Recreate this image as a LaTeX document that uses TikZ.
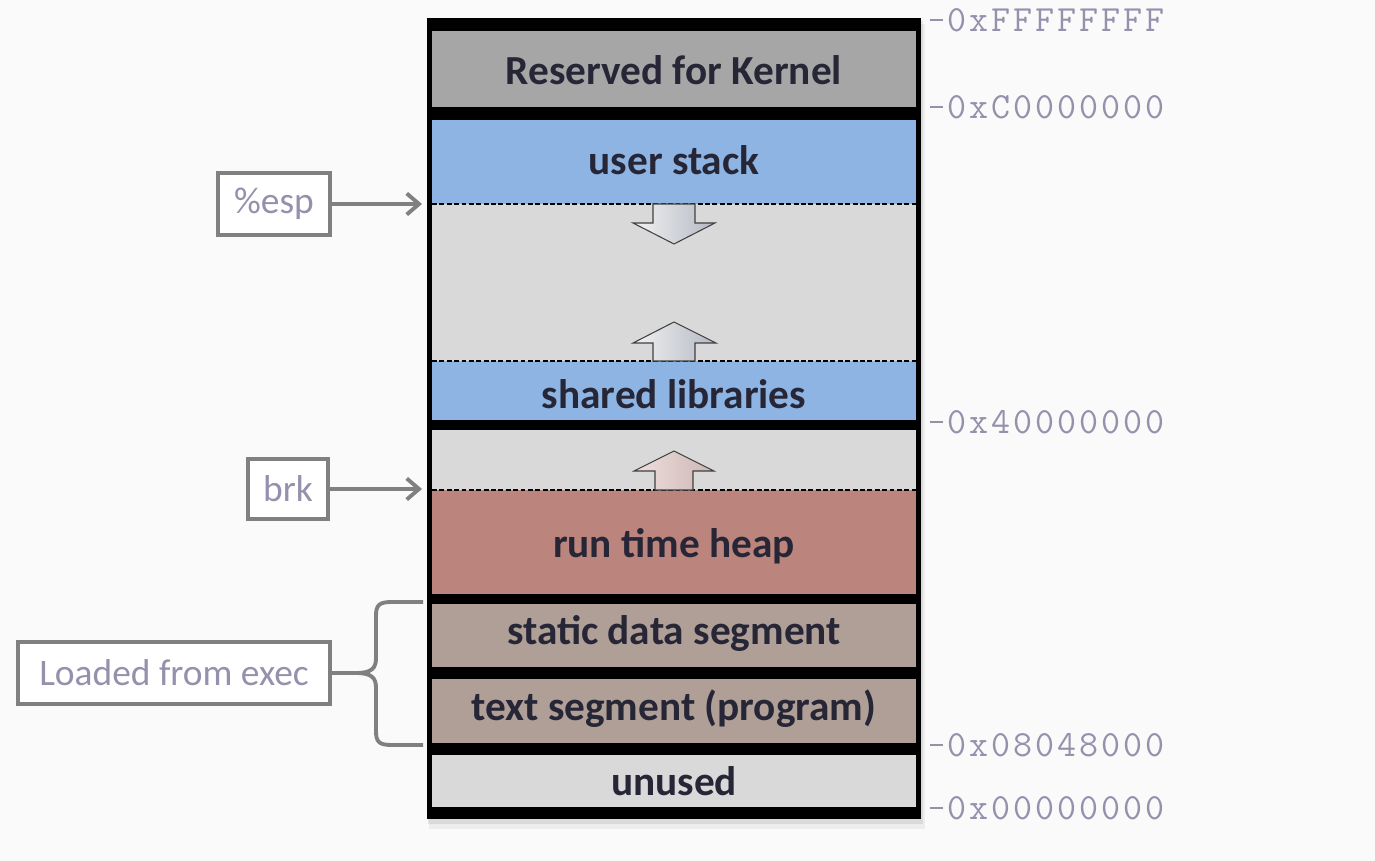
\documentclass[tikz,border=0pt]{standalone}
\usepackage{fontspec}
\setmainfont{Carlito}
\definecolor{bgPage}{HTML}{FAFAFA}
\definecolor{kernelGray}{HTML}{A6A6A6}
\definecolor{stackBlue}{HTML}{8EB4E3}
\definecolor{freeGray}{HTML}{D9D9D9}
\definecolor{heapRed}{HTML}{BB847D}
\definecolor{segTaupe}{HTML}{AF9F97}
\definecolor{labelInk}{HTML}{262636}
\definecolor{addrInk}{HTML}{9391AC}
\definecolor{ptrGray}{HTML}{808080}
\definecolor{arrowLight}{HTML}{F2F2F2}
\definecolor{arrowDark}{HTML}{B4B8C3}
\definecolor{heapLight}{HTML}{EEDFDE}
\definecolor{heapDark}{HTML}{CDB6B4}
\usetikzlibrary{positioning, arrows.meta}
\makeatletter
\newcommand\spacedaddr[1]{\@tfor\addrch:=#1\do{\makebox[0.44cm]{\addrch}}}
\makeatother

\begin{document}
\begin{tikzpicture}[x=0.02cm, y=-0.02cm,
    seglabel/.style={font=\fontsize{23.5}{28}\selectfont\bfseries, text=labelInk, inner sep=0pt},
    ptrbox/.style={draw=ptrGray, line width=2.2pt, fill=white, inner sep=0pt,
                   font=\fontsize{21.3}{25}\selectfont, text=addrInk},
    ptr/.style={draw=ptrGray, line width=2.2pt, -{Straight Barb[length=7pt, width=12pt]}},
    brace/.style={draw=ptrGray, line width=2.2pt},
    addr/.style={anchor=west, inner sep=0pt, text=addrInk, font=\ttfamily\fontsize{21}{24}\selectfont},
    tick/.style={draw=addrInk, line width=0.9pt},
    sepline/.style={draw=black, line width=0.9pt, dash pattern=on 2.8pt off 1.4pt},
    growarrow/.style={draw=black!75, line width=0.6pt}]
  % page and shadow
  \fill[bgPage] (0,0) rectangle (1375,861);
  \fill[black, opacity=.05] (429,24) rectangle (925,829);
  \fill[black, opacity=.08] (428,21) rectangle (923,824);
  % frame and segments
  \fill[black] (427,18) rectangle (921,819);
  \fill[kernelGray] (432,31) rectangle (916,107);
  \fill[stackBlue] (432,120) rectangle (916,204);
  \fill[freeGray] (432,204) rectangle (916,361);
  \fill[stackBlue] (432,361) rectangle (916,420);
  \fill[freeGray] (432,430) rectangle (916,490);
  \fill[heapRed] (432,490) rectangle (916,594);
  \fill[segTaupe] (432,604) rectangle (916,667);
  \fill[segTaupe] (432,679) rectangle (916,743);
  \fill[freeGray] (432,755) rectangle (916,807);
  \draw[sepline] (432,204) -- (916,204);
  \draw[sepline] (432,361) -- (916,361);
  \draw[sepline] (432,490) -- (916,490);

  % growth arrows
  \draw[growarrow, left color=arrowLight, right color=arrowDark]
    (653,204) -- (695,204) -- (695,223) -- (715,223) -- (674,244) -- (633,223) -- (653,223) -- cycle;
  \draw[growarrow, left color=arrowLight, right color=arrowDark]
    (653,361) -- (695,361) -- (695,343) -- (716,343) -- (674,322) -- (633,343) -- (653,343) -- cycle;
  \draw[growarrow, left color=heapLight, right color=heapDark]
    (655,490) -- (693,490) -- (693,471) -- (714,471) -- (674,451) -- (634,471) -- (655,471) -- cycle;

  % segment names
  \node[seglabel] (kernel) at (674,70) {Reserved for Kernel};
  \node[seglabel] (stack) at (674,160) {user stack};
  \node[seglabel] (libs) at (674,394) {shared libraries};
  \node[seglabel] (heap) at (674,546) {run time heap};
  \node[seglabel] (data) at (674,633) {static data segment};
  \node[seglabel] (text) at (674,709) {text segment (program)};
  \node[seglabel] (unused) at (674,781) {unused};

  % pointers
  \node[ptrbox, minimum width=2.24cm, minimum height=1.24cm] (esp) at (274,204) {\%esp};
  \node[ptrbox, minimum width=1.6cm, minimum height=1.2cm] (brk) at (288,489) {brk};
  \node[ptrbox, minimum width=6.24cm, minimum height=1.24cm] (loaded) at (174,673) {Loaded from exec};
  \coordinate (espTip) at (422,204);
  \coordinate (brkTip) at (422,489);
  \draw[ptr] (esp) -- (espTip);
  \draw[ptr] (brk) -- (brkTip);

  % brace over static data and text
  \coordinate (loadTop) at (423,602);
  \coordinate (loadBot) at (423,745);
  \draw[brace] (loadTop) -- (392,602) .. controls (379,602) and (376,605) .. (376,616)
    -- (376,658) .. controls (376,668) and (372,673) .. (356,673) -- (loaded.east);
  \draw[brace] (loadBot) -- (392,745) .. controls (379,745) and (376,742) .. (376,731)
    -- (376,688) .. controls (376,678) and (372,673) .. (356,673);

  % addresses
  \node[addr] (addrTop) at (946,20) {\spacedaddr{0xFFFFFFFF}};
  \node[addr] (addrKern) at (946,107) {\spacedaddr{0xC0000000}};
  \node[addr] (addrLibs) at (946,422) {\spacedaddr{0x40000000}};
  \node[addr] (addrText) at (946,745) {\spacedaddr{0x08048000}};
  \node[addr] (addrZero) at (946,808) {\spacedaddr{0x00000000}};
  \draw[tick] ([xshift=-2pt]addrTop.west) -- ++(-13,0);
  \draw[tick] ([xshift=-2pt]addrKern.west) -- ++(-13,0);
  \draw[tick] ([xshift=-2pt]addrLibs.west) -- ++(-13,0);
  \draw[tick] ([xshift=-2pt]addrText.west) -- ++(-13,0);
  \draw[tick] ([xshift=-2pt]addrZero.west) -- ++(-13,0);
\end{tikzpicture}
\end{document}
